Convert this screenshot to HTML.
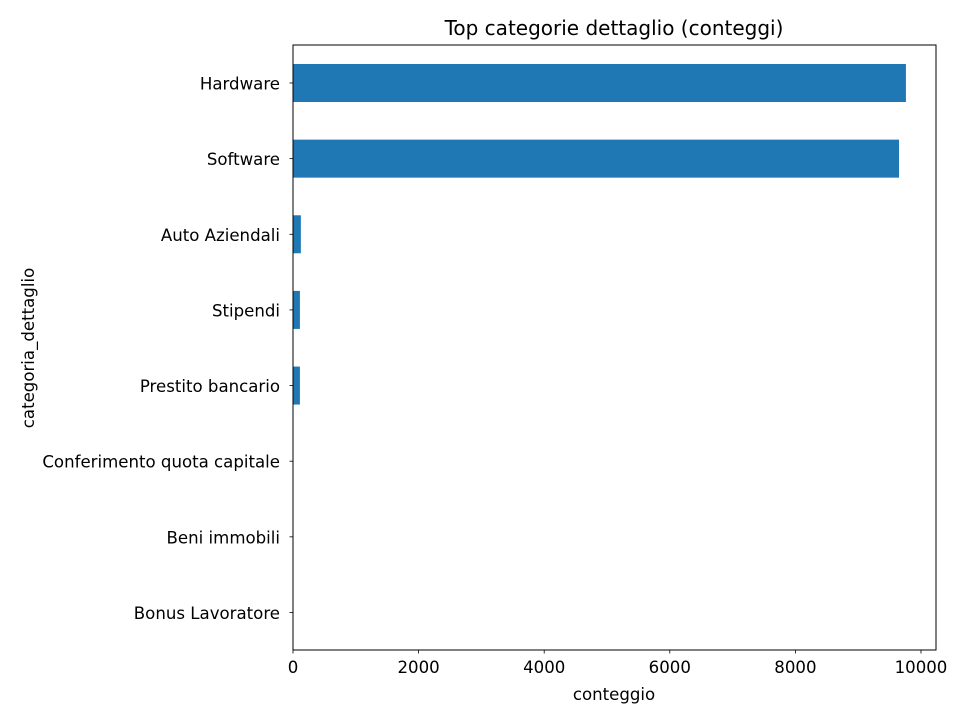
<!DOCTYPE html>
<html><head><meta charset="utf-8"><style>
body{margin:0;background:#fff;font-family:"Liberation Sans","DejaVu Sans",sans-serif;}
svg text{font-family:"DejaVu Sans","Liberation Sans",sans-serif;}
</style></head><body>
<svg id="chart" width="960" height="720" xmlns="http://www.w3.org/2000/svg"></svg>
<script>
const categories=["Hardware","Software","Auto Aziendali","Stipendi","Prestito bancario","Conferimento quota capitale","Beni immobili","Bonus Lavoratore"];
const values=[9760,9650,125,110,110,5,3,2];
const xTicks=[0,2000,4000,6000,8000,10000];
const svg=document.getElementById('chart');
const NS='http://www.w3.org/2000/svg';
const L=293,R=936,T=45,B=650;
const xmax=10239;
const x=v=>L+(v/xmax)*(R-L);
const y=i=>83+i*75.64;
function mk(tag,attrs,txt){const e=document.createElementNS(NS,tag);for(const k in attrs)e.setAttribute(k,attrs[k]);if(txt!==undefined)e.textContent=txt;svg.appendChild(e);return e;}
categories.forEach((c,i)=>{
 const b=mk('rect',{x:x(0),y:y(i)-19,width:x(values[i])-x(0),height:38,fill:'#1f77b4'});
 
 
 const t=mk('line',{x1:L-3.5,x2:L,y1:y(i),y2:y(i),stroke:'#000','stroke-width':0.8});
 
 
 const l=mk('text',{x:L-13,y:y(i)+6.5,'text-anchor':'end','font-size':'16.6'},c);
 
 
});
xTicks.forEach(v=>{
 const t=mk('line',{x1:x(v),x2:x(v),y1:B,y2:B+3.5,stroke:'#000','stroke-width':0.8});
 
 
 const l=mk('text',{x:x(v),y:B+23,'text-anchor':'middle','font-size':'16.6'},v);
 
 
});
const f=mk('rect',{x:L,y:T,width:R-L,height:B-T,fill:'none',stroke:'#000','stroke-width':1});


const ti=mk('text',{x:614,y:35,'text-anchor':'middle','font-size':'20'},'Top categorie dettaglio (conteggi)');


const xt=mk('text',{x:614,y:700,'text-anchor':'middle','font-size':'16.6'},'conteggio');


const yt=mk('text',{x:34,y:348,'text-anchor':'middle','font-size':'16.6',transform:'rotate(-90 34 348)'},'categoria_dettaglio');


</script>
</body></html>
